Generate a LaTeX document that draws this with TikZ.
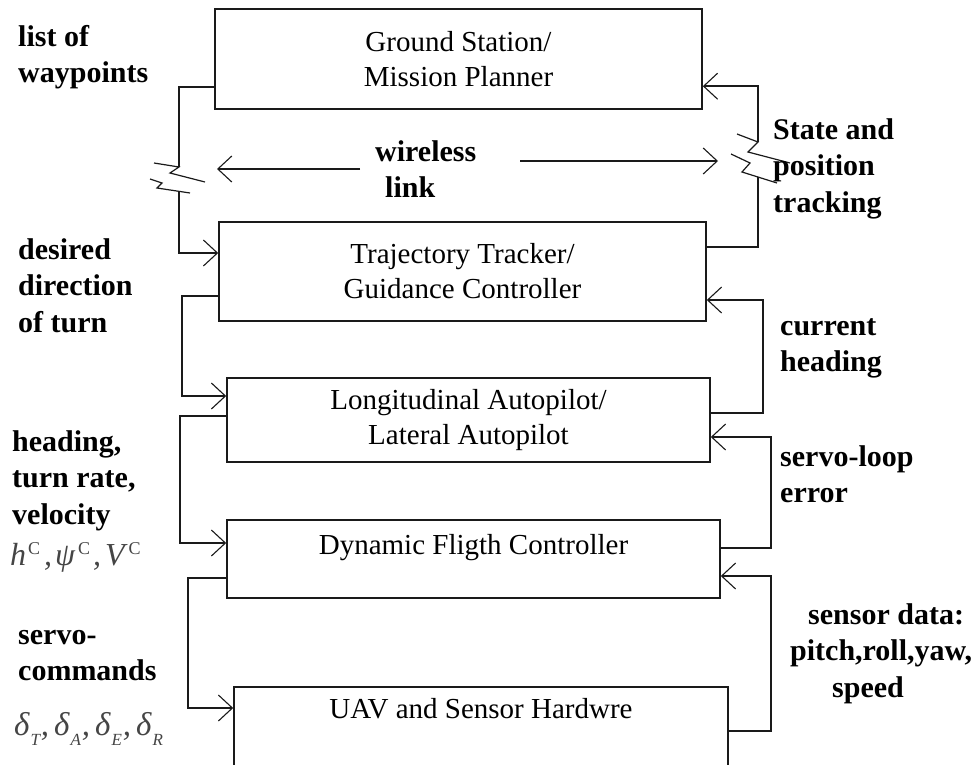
\documentclass[tikz,border=0pt]{standalone}
\usepackage{fontspec}
\setmainfont{Liberation Serif}
\usetikzlibrary{arrows.meta}
\definecolor{ink}{HTML}{1A1A1A}
\definecolor{mathgray}{HTML}{454545}
% strut that fixes the first baseline of a label 22pt below its top
\newcommand\firstline{\rule{0pt}{22pt}}
% raised upright C of the command symbols
\newcommand\supC{\raisebox{11pt}{\fontsize{18}{18}\selectfont\upshape C}}
% lowered italic index of the control deflections
\newcommand\subL[1]{\raisebox{-10pt}{\fontsize{17}{17}\selectfont\itshape #1}}

\begin{document}
\begin{tikzpicture}[x=1pt,y=-1pt,
  box/.style={draw=ink, line width=1.6pt, align=center, inner sep=0pt,
    font=\fontsize{29}{35}\selectfont},
  lbl/.style={anchor=north west, inner sep=0pt, align=left,
    font=\fontsize{30}{36.5}\selectfont\bfseries, execute at begin node=\firstline},
  mathlbl/.style={anchor=base west, inner sep=0pt, text=mathgray,
    font=\fontsize{32}{36}\selectfont\itshape},
  flow/.style={draw=ink, line width=1.6pt,
    -{Straight Barb[length=14pt,width=26pt,line width=1.1pt]}},
  wire/.style={draw=ink, line width=1.6pt},
  spark/.style={draw=ink, line width=1.2pt, line join=miter}]

\clip (0,0) rectangle (980,764);
\fill[white] (0,0) rectangle (980,764);

% blocks of the control hierarchy
\node[box, minimum width=487pt, minimum height=100pt] (gs) at (458.5,59)
  {Ground Station/\\Mission Planner};
\node[box, minimum width=487pt, minimum height=99pt] (tt) at (462.5,271.5)
  {Trajectory Tracker/\\Guidance Controller};
\node[box, minimum width=483pt, minimum height=84pt] (ap) at (468.5,420)
  {Longitudinal Autopilot/\\Lateral Autopilot};
\node[box, minimum width=493pt, minimum height=78pt, text height=19pt,
  text depth=29pt] (fc) at (473.5,559) {Dynamic Fligth Controller};
\node[box, anchor=north, minimum width=494pt, text height=21pt, text depth=80pt,
  inner ysep=11pt] (hw) at (481,686) {UAV and Sensor Hardwre};

% radio-link break points
\coordinate (l1) at (179,167);
\coordinate (l2) at (179,192);
\coordinate (r1) at (758,177);
\coordinate (r2) at (758,142);

% downward command path (left side)
\draw[wire] ([yshift=-79pt]gs.north west) -| (l1);
\draw[flow] (l2) |- ([yshift=18.5pt]tt.west);
\draw[flow] ([yshift=-24.5pt]tt.west) -- ++(-36,0) |- ([yshift=24pt]ap.west);
\draw[flow] ([yshift=4pt]ap.west) -- ++(-46,0) |- ([yshift=16pt]fc.west);
\draw[flow] ([yshift=-19pt]fc.west) -- ++(-38,0) |- ([yshift=-22pt]hw.north west);

% upward feedback path (right side)
\draw[wire] ([yshift=24.5pt]tt.east) -| (r1);
\draw[flow] (r2) |- ([yshift=-78pt]gs.north east);
\draw[flow] ([yshift=7pt]ap.east) -- ++(52,0) |- ([yshift=-28.5pt]tt.east);
\draw[flow] ([yshift=11pt]fc.east) -- ++(50,0) |- ([yshift=-17pt]ap.east);
\draw[flow] ([yshift=-45pt]hw.north east) -- ++(42,0) |- ([yshift=-17pt]fc.east);

% lightning marks of the wireless link
\draw[spark] (154,163) -- (l1) -- (170,173) -- (205,182);
\draw[spark] (150,179) -- (162,183) -- (157,188) -- (190,193);
\draw[spark] (737,134) -- (r2) -- (748,152) -- (790,163);
\draw[spark] (731,154) -- (750,163) -- (742,172) -- (777,183);

% wireless link label and its arrows
\node[lbl] (wl) at (375,140) {wireless\\\hspace*{10pt}link};
\coordinate (wlt1) at (360,169);
\coordinate (wlh1) at (217,169);
\coordinate (wlt2) at (520,161);
\coordinate (wlh2) at (718,161);
\draw[flow] (wlt1) -- (wlh1);
\draw[flow] (wlt2) -- (wlh2);

% signal labels
\node[lbl] (waypts) at (18,25) {list of\\waypoints};
\node[lbl] (state) at (773,118) {State and\\position\\tracking};
\node[lbl] (desired) at (18,238) {desired\\direction\\of turn};
\node[lbl] (curhead) at (780,318) {current\\heading};
\node[lbl] (cmdset) at (12,430) {heading,\\turn rate,\\velocity};
\node[mathlbl] (cmdmath) at (10,565)
  {h\kern2pt\supC\kern4pt,\kern3ptψ\kern3pt\supC\kern3pt,\kern4ptV\kern4pt\supC};
\node[lbl] (svloop) at (780,445) {servo-loop\\error};
\node[lbl] (servo) at (18,630) {servo-\\commands};
\node[mathlbl, font=\fontsize{33}{36}\selectfont\itshape] (delta) at (14,735)
  {δ\kern1pt\subL{T}\kern1pt,\kern5ptδ\kern1pt\subL{A}\kern1pt,\kern5pt%
   δ\kern1pt\subL{E}\kern1pt,\kern5ptδ\kern1pt\subL{R}};
\node[lbl] (sensor) at (790,603)
  {\hspace*{18pt}sensor data:\\pitch,roll,yaw,\\\hspace*{42pt}speed};
\end{tikzpicture}
\end{document}
